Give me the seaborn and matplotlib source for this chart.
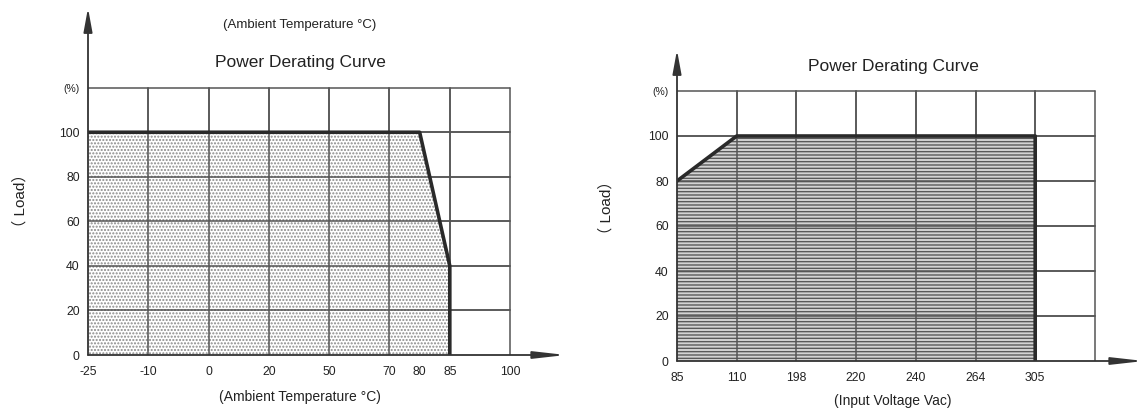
import numpy as np
import pandas as pd
import matplotlib
matplotlib.use("Agg")
import matplotlib.pyplot as plt
import seaborn as sns

# ---- data ----
temp_ticks = [-25, -10, 0, 20, 50, 70, 80, 85, 100]
temp_curve_x = [-25, 80, 85, 85]
temp_curve_load = [100, 100, 40, 0]

volt_ticks = [85, 110, 198, 220, 240, 264, 305]
volt_curve_x = [85, 110, 305, 305]
volt_curve_load = [80, 100, 100, 0]

load_ticks = [0, 20, 40, 60, 80, 100]

# slot of each tick on the (non-linear) x axis
temp_slot = {-25: 0, -10: 1, 0: 2, 20: 3, 50: 4, 70: 5, 80: 5.5, 85: 6, 100: 7}
volt_slot = {v: i for i, v in enumerate(volt_ticks)}

sns.set_theme(style="white")
plt.rcParams['font.family'] = ['Liberation Sans', 'Noto Sans CJK SC', 'DejaVu Sans']

W, H = 1144, 412
fig = plt.figure(figsize=(W / 100, H / 100), dpi=100)

def px_axes(x0, x1, y0, y1):
    return fig.add_axes([x0 / W, (H - y1) / H, (x1 - x0) / W, (y1 - y0) / H])

TXT = '#222222'
GRID = '#555555'

def draw(ax, slots, ticks, cx, cy, xmax, ymax, ncols, fill_kw):
    xs = [slots[v] for v in cx]
    df = pd.DataFrame({'x': xs, 'load': cy})
    ax.set_xlim(0, xmax)
    ax.set_ylim(0, ymax)
    for i in range(1, ncols + 1):
        ax.plot([i, i], [0, 120], color=GRID, lw=1.1, zorder=1)
    for yv in range(20, 121, 20):
        ax.plot([0, ncols], [yv, yv], color=GRID, lw=1.1, zorder=1)
    ax.fill_between(df['x'], df['load'], zorder=2, **fill_kw)
    for i in range(1, ncols):
        ax.plot([i, i], [0, 120], color=GRID, lw=1.1, zorder=2.5)
    for yv in range(20, 101, 20):
        ax.plot([0, ncols], [yv, yv], color=GRID, lw=1.1, zorder=2.5)
    sns.lineplot(data=df, x='x', y='load', sort=False, estimator=None,
                 color='#2a2a2a', linewidth=2.6, ax=ax, zorder=3)
    ax.annotate('', xy=(xmax, 0), xytext=(0, 0), annotation_clip=False,
                arrowprops=dict(arrowstyle='-|>,head_length=1.6,head_width=0.18',
                                color='#333333', lw=1.3, shrinkA=0, shrinkB=0))
    ax.annotate('', xy=(0, ymax), xytext=(0, 0), annotation_clip=False,
                arrowprops=dict(arrowstyle='-|>,head_length=1.2,head_width=0.22',
                                color='#333333', lw=1.3, shrinkA=0, shrinkB=0))
    for s in ax.spines.values():
        s.set_visible(False)
    ax.set_xticks([slots[v] for v in ticks])
    ax.set_xticklabels([str(v) for v in ticks], fontsize=8.8, color=TXT)
    ax.set_yticks(load_ticks + [120])
    ax.set_yticklabels([str(v) for v in load_ticks] + ['(%)'], fontsize=8.8, color=TXT)
    ax.get_yticklabels()[-1].set_fontsize(7.5)
    ax.tick_params(axis='y', length=0, pad=6)
    ax.tick_params(axis='x', length=0, pad=8)
    ax.set_xlabel('')
    ax.set_ylabel('')

axL = px_axes(88, 566, 8, 355)
draw(axL, temp_slot, temp_ticks, temp_curve_x, temp_curve_load,
     xmax=(566 - 88) / 60.3, ymax=(355 - 8) / 44.55 * 20, ncols=7,
     fill_kw=dict(facecolor='white', edgecolor='#8a8a8a', hatch='.....', linewidth=0))

axR = px_axes(677, 1144, 50, 361)
draw(axR, volt_slot, volt_ticks, volt_curve_x, volt_curve_load,
     xmax=(1144 - 677) / 59.7, ymax=(361 - 50) / 45.0 * 20, ncols=7,
     fill_kw=dict(facecolor='#d4d4d4', edgecolor='#5a5a5a', hatch='-----', linewidth=0))

def ftext(x, y, s, **kw):
    fig.text(x / W, 1 - y / H, s, ha='center', va='center', color=TXT, **kw)

ftext(300, 25, '(Ambient Temperature °C)', fontsize=9.5)
ftext(300, 62, 'Power Derating Curve', fontsize=12.5)
ftext(300, 397, '(Ambient Temperature °C)', fontsize=10)
ftext(20, 201, '（ Load）', fontsize=11, rotation=90)

ftext(893, 66, 'Power Derating Curve', fontsize=12.5)
ftext(893, 401, '(Input Voltage Vac)', fontsize=10)
ftext(606, 208, '（ Load）', fontsize=11, rotation=90)

fig.savefig('out.png', dpi=100)
